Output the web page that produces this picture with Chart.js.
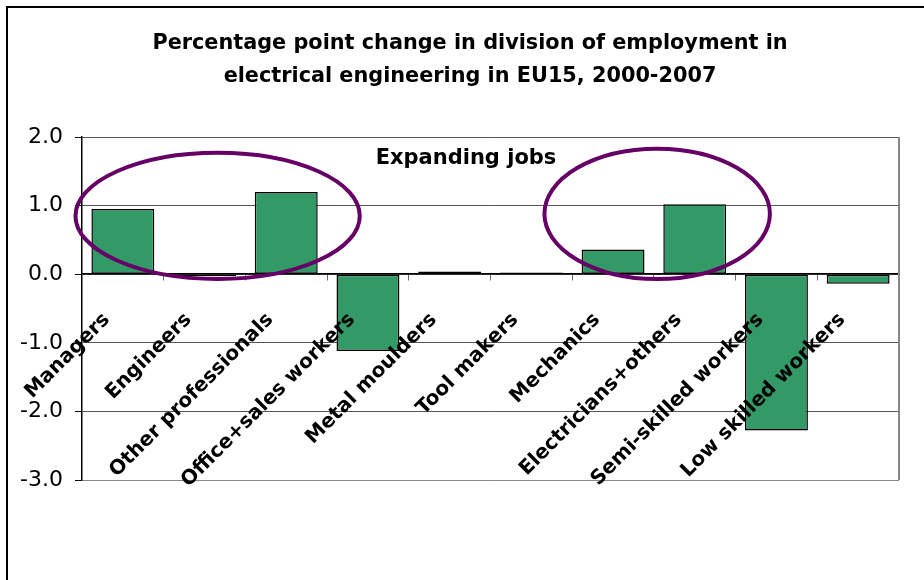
<!DOCTYPE html>
<html>
<head>
<meta charset="utf-8">
<script src="https://cdn.jsdelivr.net/npm/chart.js@4.4.1/dist/chart.umd.min.js"></script>
<style>
  html, body { margin: 0; padding: 0; background: #fff; }
  #wrap { position: relative; width: 924px; height: 580px; }
</style>
</head>
<body>
<div id="wrap"><canvas id="jobsChart"></canvas></div>
<script>
// Percentage point change in division of employment, EU15 electrical engineering

const categories = ['Managers', 'Engineers', 'Other professionals', 'Office+sales workers',
    'Metal moulders', 'Tool makers', 'Mechanics', 'Electricians+others',
    'Semi-skilled workers', 'Low skilled workers'];
const changeValues = [0.95, -0.03, 1.20, -1.12, 0.04, 0.025, 0.36, 1.02, -2.28, -0.14];
const yMin = -3;
const yMax = 2;
const yStep = 1;

const titleLines = ['Percentage point change in division of employment in',
    'electrical engineering in EU15, 2000-2007'];

// annotation ellipses in data units (category index, value)
const highlightEllipses = [
    { cx: 1.16, cy: 0.85, rx: 1.74, ry: 0.92 },
    { cx: 6.54, cy: 0.88, rx: 1.38, ry: 0.95 }
];
const noteText = 'Expanding jobs';
const notePos = { x: 4.2, y: 1.69 };

const FONT = "'DejaVu Sans', Arial, sans-serif";

const extras = {
    id: 'extras',
    beforeDraw(chart) {
        const c = chart.ctx;
        c.save();
        c.strokeStyle = '#000';
        c.lineWidth = 2;
        c.beginPath();
        c.moveTo(7, 580);
        c.lineTo(7, 7);
        c.lineTo(924, 7);
        c.stroke();

        // title, centred on the whole picture
        c.fillStyle = '#000';
        c.font = 'bold 20.8px ' + FONT;
        c.textAlign = 'center';
        c.textBaseline = 'middle';
        titleLines.forEach((t, i) => c.fillText(t, 470, 44 + i * 33));
        c.restore();
    },
    afterDraw(chart) {
        const c = chart.ctx;
        const x = chart.scales.x, y = chart.scales.y;
        const area = chart.chartArea;
        const unitX = x.getPixelForValue(1) - x.getPixelForValue(0);
        const unitY = y.getPixelForValue(0) - y.getPixelForValue(1);
        c.save();
        // plot area right edge
        c.strokeStyle = '#888';
        c.lineWidth = 2;
        c.beginPath();
        c.moveTo(area.right, area.top);
        c.lineTo(area.right, area.bottom);
        c.stroke();

        c.strokeStyle = '#660066';
        c.lineWidth = 4;
        highlightEllipses.forEach(e => {
            c.beginPath();
            c.ellipse(x.getPixelForValue(e.cx), y.getPixelForValue(e.cy),
                e.rx * unitX, e.ry * unitY, 0, 0, Math.PI * 2);
            c.stroke();
        });

        c.fillStyle = '#000';
        c.font = 'bold 21px ' + FONT;
        c.textAlign = 'center';
        c.textBaseline = 'middle';
        c.fillText(noteText, x.getPixelForValue(notePos.x), y.getPixelForValue(notePos.y));
        c.restore();
    }
};

new Chart(document.getElementById('jobsChart'), {
    type: 'bar',
    data: {
        labels: categories,
        datasets: [{
            data: changeValues,
            backgroundColor: '#339966',
            borderColor: '#000',
            borderWidth: 1.5,
            borderSkipped: false,
            categoryPercentage: 1,
            barPercentage: 0.77
        }]
    },
    options: {
        responsive: true,
        maintainAspectRatio: false,
        animation: false,
        layout: {
            padding: { left: 12, right: 25, top: 137, bottom: 100 }
        },
        scales: {
            y: {
                min: yMin,
                max: yMax,
                afterFit: s => { s.width = 70; },
                ticks: {
                    stepSize: yStep,
                    color: '#000',
                    padding: 12,
                    font: { family: FONT, size: 22 },
                    callback: v => v.toFixed(1)
                },
                grid: {
                    color: ctx => ctx.tick && ctx.tick.value === yMin ? '#888' : '#555',
                    lineWidth: 1,
                    tickColor: '#000',
                    tickLength: 7
                },
                border: { color: '#000', width: 1.5 }
            },
            x: {
                position: { y: 0 },
                ticks: {
                    z: 1,
                    color: '#000',
                    maxRotation: 45,
                    minRotation: 45,
                    padding: 28,
                    labelOffset: -16,
                    autoSkip: false,
                    font: { family: FONT, size: 20, weight: 'bold' }
                },
                grid: {
                    drawOnChartArea: false,
                    color: '#666',
                    tickLength: 6
                },
                border: { color: '#000', width: 1.5 }
            }
        },
        plugins: {
            legend: { display: false },
            tooltip: { enabled: false },
            title: { display: false }
        }
    },
    plugins: [extras]
});
</script>
</body>
</html>
